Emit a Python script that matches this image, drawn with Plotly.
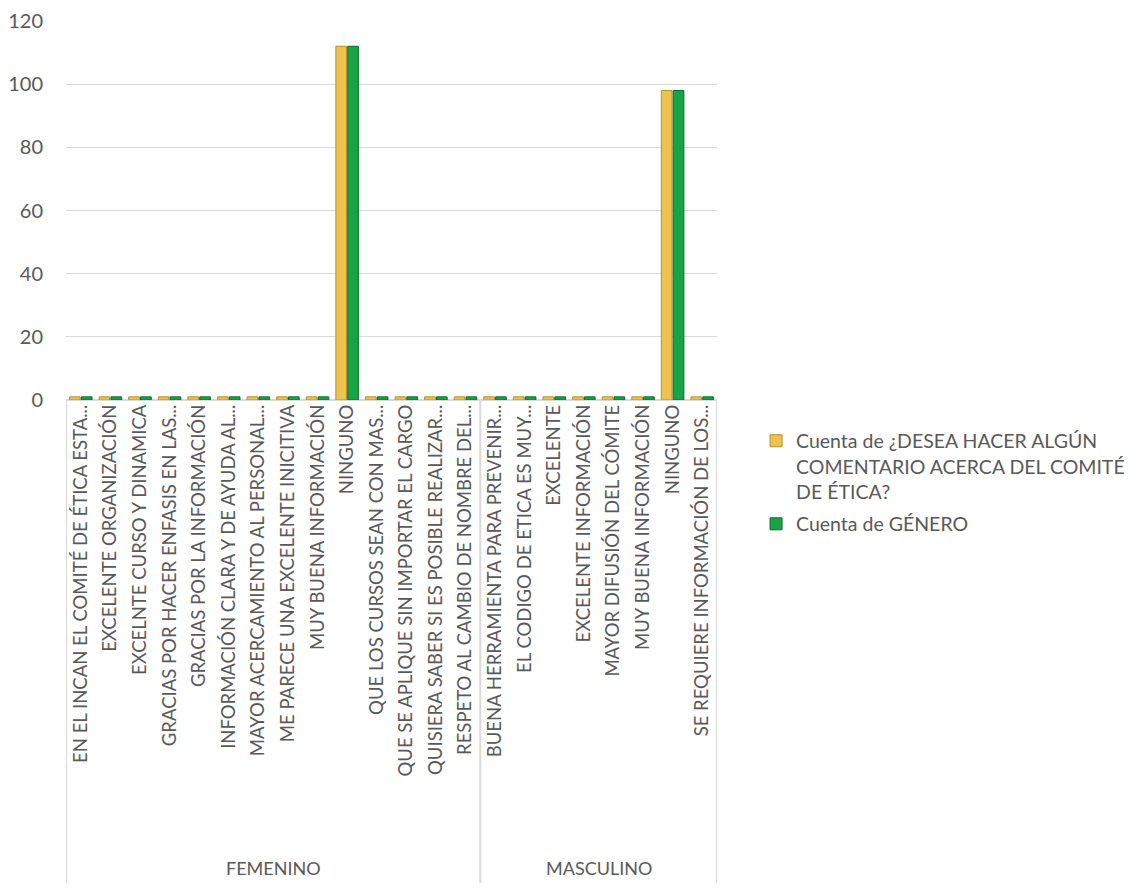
import plotly.graph_objects as go

groups = ["FEMENINO", "MASCULINO"]
fem_labels = [
    "EN EL INCAN EL COMITÉ DE ÉTICA ESTA...",
    "EXCELENTE ORGANIZACIÓN",
    "EXCELNTE CURSO Y DINAMICA",
    "GRACIAS POR HACER ENFASIS EN LAS...",
    "GRACIAS POR LA INFORMACIÓN",
    "INFORMACIÓN CLARA Y DE AYUDA AL...",
    "MAYOR ACERCAMIENTO AL PERSONAL...",
    "ME PARECE UNA EXCELENTE INICITIVA",
    "MUY BUENA INFORMACIÓN",
    "NINGUNO",
    "QUE LOS CURSOS SEAN CON MAS...",
    "QUE SE APLIQUE SIN IMPORTAR EL CARGO",
    "QUISIERA SABER SI ES POSIBLE REALIZAR...",
    "RESPETO AL CAMBIO DE NOMBRE DEL...",
]
mas_labels = [
    "BUENA HERRAMIENTA PARA PREVENIR...",
    "EL CODIGO DE ETICA ES MUY...",
    "EXCELENTE",
    "EXCELENTE INFORMACIÓN",
    "MAYOR DIFUSIÓN DEL CÓMITE",
    "MUY BUENA INFORMACIÓN",
    "NINGUNO",
    "SE REQUIERE INFORMACIÓN DE LOS...",
]
fem_comentario = [1, 1, 1, 1, 1, 1, 1, 1, 1, 112, 1, 1, 1, 1]
mas_comentario = [1, 1, 1, 1, 1, 1, 98, 1]
fem_genero = [1, 1, 1, 1, 1, 1, 1, 1, 1, 112, 1, 1, 1, 1]
mas_genero = [1, 1, 1, 1, 1, 1, 98, 1]
y_ticks = [0, 20, 40, 60, 80, 100, 120]

series_names = [
    "Cuenta de ¿DESEA HACER ALGÚN<br>COMENTARIO ACERCA DEL COMITÉ<br>DE ÉTICA?",
    "Cuenta de GÉNERO",
]

labels = fem_labels + mas_labels
xs = list(range(len(labels)))
text_color = "#595959"
font_family = "Lato"

fig = go.Figure()
fig.add_trace(go.Bar(
    x=xs, y=fem_comentario + mas_comentario, name=series_names[0],
    marker=dict(color="#EDC24E", line=dict(color="#B39030", width=1)),
    legendgroup="a",
))
fig.add_trace(go.Bar(
    x=xs, y=fem_genero + mas_genero, name=series_names[1],
    marker=dict(color="#18A347", line=dict(color="#0D6A2C", width=1)),
    legendgroup="b",
))

# group dividers and labels
bounds = [-0.5, len(fem_labels) - 0.5, len(labels) - 0.5]
plot_h = 379
for b in bounds:
    fig.add_shape(type="line", xref="x", yref="paper", x0=b, x1=b,
                  y0=0, y1=-483 / plot_h, line=dict(color="#D9D9D9", width=2))
centers = [(bounds[0] + bounds[1]) / 2, (bounds[1] + bounds[2]) / 2]
for g, c in zip(groups, centers):
    fig.add_annotation(x=c, xref="x", y=0, yref="paper", yshift=-468,
                       text=g, showarrow=False, yanchor="middle",
                       font=dict(family=font_family, size=18, color=text_color))

fig.update_layout(
    width=1134, height=880,
    margin=dict(l=58, r=425, t=13, b=488),
    paper_bgcolor="white", plot_bgcolor="white",
    barmode="group", bargap=0.2, bargroupgap=0.1,
    font=dict(family=font_family, size=18, color=text_color),
    legend=dict(x=1.06, y=-0.057, xanchor="left", yanchor="top",
                valign="top",
                font=dict(family=font_family, size=19.5, color=text_color),
                tracegroupgap=4, itemwidth=30, bgcolor="rgba(0,0,0,0)"),
    showlegend=True,
)
fig.update_xaxes(
    range=[-0.5, len(labels) - 0.5], automargin=False,
    tickmode="array", tickvals=xs, ticktext=labels, tickangle=-90,
    showgrid=False, showline=False, zeroline=False, ticks="",
    tickfont=dict(family=font_family, size=18.5, color=text_color),
)
fig.update_yaxes(
    range=[0, 120], tickvals=y_ticks, showgrid=True, gridcolor="#D9D9D9",
    gridwidth=1, zeroline=True, zerolinecolor="#D9D9D9", zerolinewidth=2,
    showline=False, ticks="", ticklabelstandoff=22, automargin=False,
    ticklabeloverflow="allow",
    tickfont=dict(family=font_family, size=20, color=text_color),
)

fig.write_html("out.html")
